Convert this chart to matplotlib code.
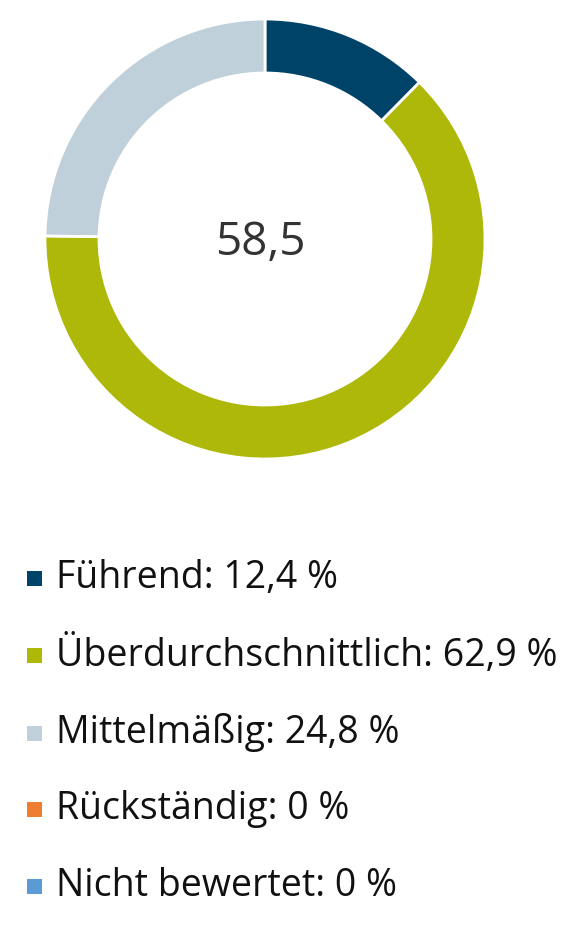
import matplotlib
matplotlib.use("Agg")
import matplotlib.pyplot as plt
from matplotlib.patches import Rectangle

# data
categories = ["Führend", "Überdurchschnittlich", "Mittelmäßig", "Rückständig", "Nicht bewertet"]
shares = [12.4, 62.9, 24.8, 0.0, 0.0]
colors = ["#004368", "#AEB808", "#BFD0DA", "#EE7D31", "#5B9BD5"]
center_value = "58,5"

W, H = 584, 935
fig = plt.figure(figsize=(W / 100, H / 100), dpi=100)
fig.patch.set_facecolor("white")

# donut, centre at (265, 239) px, outer radius 220 px
cx, cy, r = 265, 239, 220
ax = fig.add_axes([(cx - r) / W, (H - cy - r) / H, 2 * r / W, 2 * r / H])
vals = [v for v in shares if v > 0]
cols = [c for v, c in zip(shares, colors) if v > 0]
ax.pie(vals, colors=cols, startangle=90, counterclock=False, radius=1,
       wedgeprops=dict(width=54 / r, edgecolor="white", linewidth=2))
ax.set_xlim(-1, 1)
ax.set_ylim(-1, 1)
ax.set_aspect("equal")
ax.axis("off")
ax.text(-0.02, -0.02, center_value, ha="center", va="center", fontsize=33,
        color="#333333", family="Open Sans")


def fmt(v):
    if v == 0:
        return "0 %"
    return f"{v:.1f} %".replace(".", ",")


# legend rows
row_y = [578, 655, 733, 809, 886]
for name, v, c, y in zip(categories, shares, colors, row_y):
    fig.add_artist(Rectangle((27 / W, 1 - (y + 8) / H), 15 / W, 15 / H,
                             transform=fig.transFigure, color=c, lw=0))
    fig.text(56 / W, 1 - y / H, f"{name}: {fmt(v)}", ha="left", va="center",
             fontsize=27, color="#111111", family="Open Sans")

fig.savefig("out.png", dpi=100)
